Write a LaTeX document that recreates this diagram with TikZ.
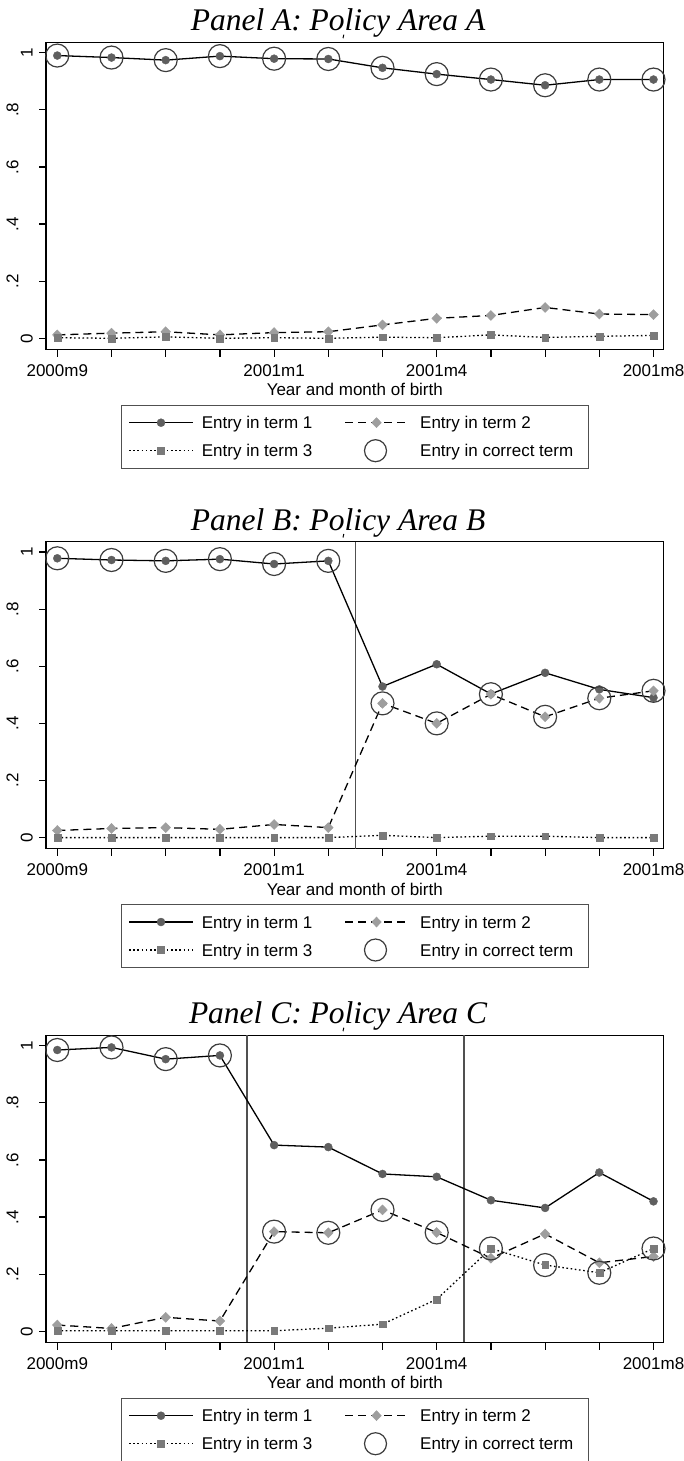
\documentclass[tikz,border=0pt]{standalone}
\usepackage{fontspec}
\setmainfont{Liberation Sans}
\newfontfamily\titlefont{Liberation Serif}
\usetikzlibrary{plotmarks}

\definecolor{dotgray}{RGB}{95,95,95}
\definecolor{diagray}{RGB}{158,158,158}
\definecolor{sqgray}{RGB}{122,122,122}
\definecolor{ringgray}{RGB}{60,60,60}
\definecolor{rulegray}{RGB}{80,80,80}

\tikzset{
  frame/.style={line width=1.2pt},
  legframe/.style={line width=1pt, draw=rulegray},
  rule/.style={line width=1.4pt, draw=rulegray},
  termone/.style={line width=1.3pt, mark=*, mark size=4pt,
    mark options={fill=dotgray, draw=dotgray, line width=0.4pt}},
  termtwo/.style={line width=1.3pt, dash pattern=on 8pt off 5pt, mark=diamond*, mark size=5pt,
    mark options={solid, fill=diagray, draw=diagray, line width=0.4pt, xscale=1.3}},
  termthree/.style={line width=1.3pt, dash pattern=on 1.6pt off 2.6pt, mark=square*, mark size=3.4pt,
    mark options={solid, fill=sqgray, draw=sqgray, line width=0.4pt}},
  ring/.style={only marks, mark=o, mark size=11.5pt, mark options={draw=ringgray, line width=1.2pt}},
  ticklab/.style={font=\fontsize{17}{20}\selectfont, inner sep=0pt},
  legtext/.style={font=\fontsize{17}{20}\selectfont, inner sep=0pt, anchor=base west},
  paneltitle/.style={font=\titlefont\itshape\fontsize{31.5}{32}\selectfont, inner sep=0pt, anchor=base}
}

\newcommand\policypanel[7]{%
  \pgfmathsetmacro\ytop{#1-10.5}
  \pgfmathsetmacro\ybot{#1+296.7}
  \pgfmathsetmacro\rowa{#1+370}
  \pgfmathsetmacro\rowb{#1+398}
  \node[paneltitle] (title#2) at (338,#1-22) {Panel #2: Policy Area #2};
  \draw[line width=1pt] (343.8,#1-18) -- (343,#1-14.5);
  \draw[frame] (46,\ytop) rectangle (663.5,\ybot);
  \foreach \v/\lab/\lx [count=\n] in {0/0/32.7,0.2/.2/18.3,0.4/.4/18.3,0.6/.6/18.3,0.8/.8/18.3,1/1/32.7}{
    \draw[frame] (39,{#1+285.6*(1-\v)}) -- (46,{#1+285.6*(1-\v)});
    \node[ticklab, rotate=90, anchor=base] (ylab#2\n) at (\lx,{#1+285.6*(1-\v)}) {\lab};
  }
  \foreach \i in {0,...,11}
    \draw[frame] ({57.3+54.2*\i},\ybot) -- ({57.3+54.2*\i},\ybot+7.5);
  \foreach \i/\lab in {0/2000m9,4/2001m1,7/2001m4,11/2001m8}
    \node[ticklab] (xlab#2\i) at ({57.3+54.2*\i},#1+318) {\lab};
  \node[ticklab] (xname#2) at (354.8,#1+337) {Year and month of birth};
  #7
  \begin{scope}[shift={(57.3,#1+285.6)}, x=54.2pt, y=285.6pt]
    \draw[termone] plot coordinates {#3};
    \draw[termtwo] plot coordinates {#4};
    \draw[termthree] plot coordinates {#5};
    \draw[ring] plot coordinates {#6};
  \end{scope}
  \draw[legframe] (121,#1+352.5) rectangle (588.7,#1+415.8);
  \draw[termone, mark indices={2}] plot coordinates {(129,\rowa) (161,\rowa) (193,\rowa)};
  \draw[termtwo, mark indices={2}] plot coordinates {(345,\rowa) (376.5,\rowa) (408,\rowa)};
  \draw[termthree, mark indices={2}] plot coordinates {(129,\rowb) (161,\rowb) (193,\rowb)};
  \draw[ring, mark size=11pt] plot coordinates {(375.5,\rowb)};
  \node[legtext] (legone#2) at (201.7,\rowa+6) {Entry in term 1};
  \node[legtext] (legtwo#2) at (420,\rowa+6) {Entry in term 2};
  \node[legtext] (legthree#2) at (201.7,\rowb+6) {Entry in term 3};
  \node[legtext] (legright#2) at (420,\rowb+6) {Entry in correct term};
}

\begin{document}
\begin{tikzpicture}[x=1pt, y=-1pt]
\fill[white] (0,0) rectangle (684,1461);
\useasboundingbox (0,0) rectangle (684,1461);

\policypanel{52.7}{A}
  {(0,.990) (1,.983) (2,.974) (3,.988) (4,.979) (5,.978) (6,.947) (7,.925) (8,.906) (9,.886) (10,.906) (11,.906)}
  {(0,.012) (1,.018) (2,.023) (3,.012) (4,.020) (5,.023) (6,.047) (7,.070) (8,.080) (9,.108) (10,.085) (11,.083)}
  {(0,.002) (1,0) (2,.005) (3,0) (4,.002) (5,0) (6,.004) (7,.002) (8,.012) (9,.003) (10,.007) (11,.010)}
  {(0,.990) (1,.983) (2,.974) (3,.988) (4,.979) (5,.978) (6,.947) (7,.925) (8,.906) (9,.886) (10,.906) (11,.906)}
  {}

\policypanel{552}{B}
  {(0,.978) (1,.972) (2,.969) (3,.975) (4,.958) (5,.969) (6,.529) (7,.607) (8,.503) (9,.577) (10,.519) (11,.490)}
  {(0,.025) (1,.032) (2,.035) (3,.029) (4,.046) (5,.035) (6,.470) (7,.400) (8,.502) (9,.423) (10,.488) (11,.514)}
  {(0,0) (1,0) (2,0) (3,0) (4,0) (5,0) (6,.008) (7,0) (8,.005) (9,.005) (10,0) (11,0)}
  {(0,.978) (1,.972) (2,.969) (3,.975) (4,.958) (5,.969) (6,.470) (7,.400) (8,.502) (9,.423) (10,.488) (11,.514)}
  {\draw[rule] (355.4,541.5) -- (355.4,848.7);}

\policypanel{1045.7}{C}
  {(0,.985) (1,.994) (2,.953) (3,.966) (4,.652) (5,.645) (6,.551) (7,.541) (8,.459) (9,.432) (10,.556) (11,.455)}
  {(0,.022) (1,.010) (2,.049) (3,.036) (4,.349) (5,.345) (6,.425) (7,.346) (8,.256) (9,.341) (10,.240) (11,.262)}
  {(0,.002) (1,.002) (2,.002) (3,.002) (4,.002) (5,.011) (6,.025) (7,.112) (8,.290) (9,.232) (10,.205) (11,.290)}
  {(0,.985) (1,.994) (2,.953) (3,.966) (4,.349) (5,.345) (6,.425) (7,.346) (8,.290) (9,.232) (10,.205) (11,.290)}
  {\draw[rule] (247,1035.2) -- (247,1342.4); \draw[rule] (463.8,1035.2) -- (463.8,1342.4);}
\end{tikzpicture}
\end{document}
